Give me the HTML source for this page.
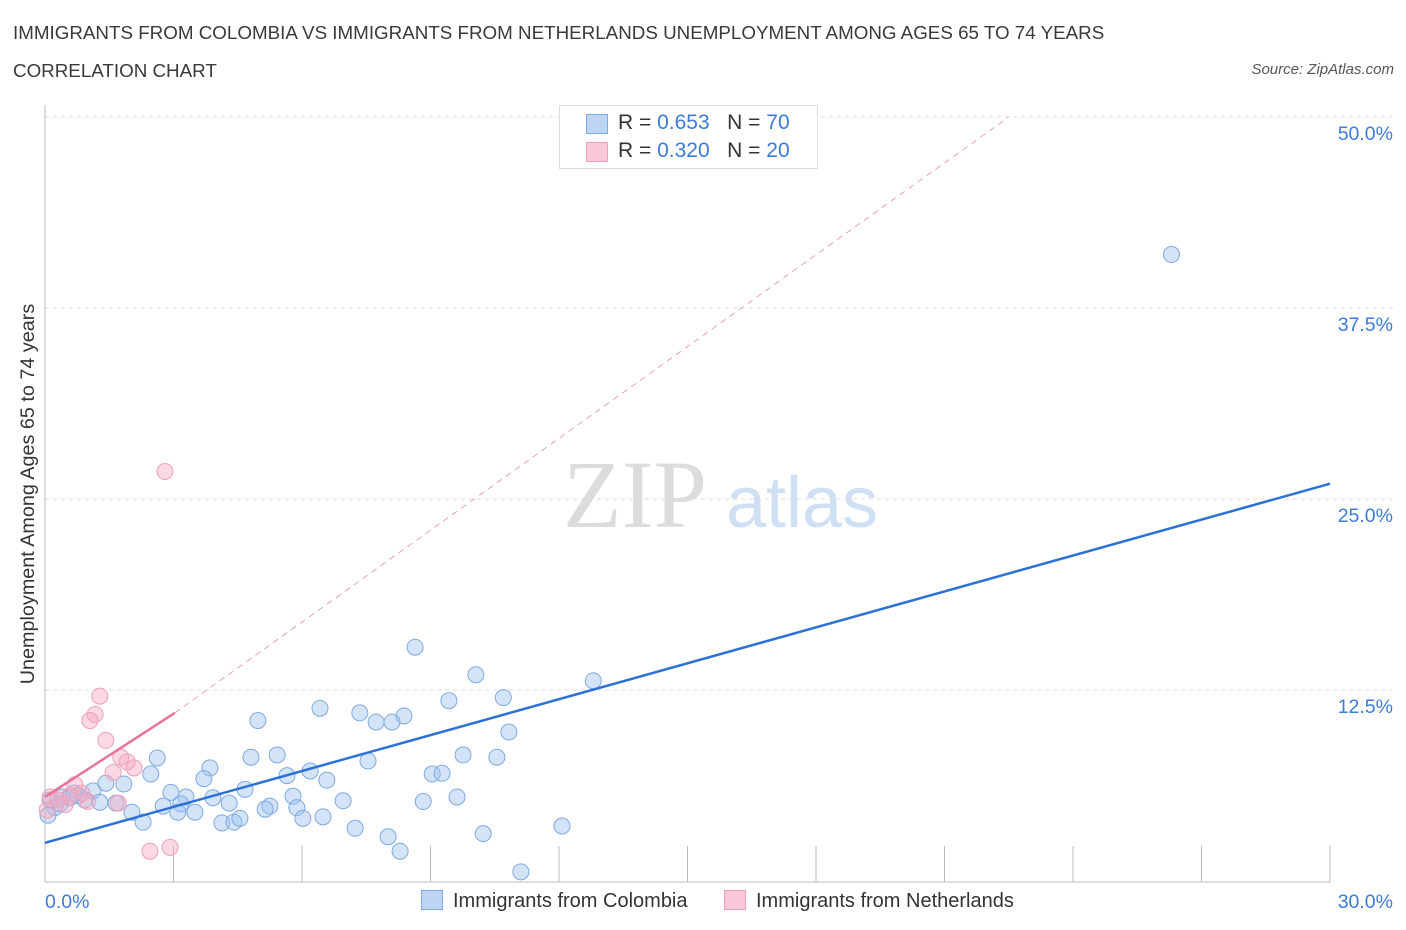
<!DOCTYPE html>
<html><head><meta charset="utf-8"><style>
body{margin:0;background:#fff;font-family:"Liberation Sans",sans-serif;}
#wrap{position:relative;width:1406px;height:930px;overflow:hidden;}
.t{position:absolute;white-space:nowrap;}
</style></head><body>
<div id="wrap">
<div class="t" style="left:13px;top:22px;font-size:18.8px;color:#3a3a3a;">IMMIGRANTS FROM COLOMBIA VS IMMIGRANTS FROM NETHERLANDS UNEMPLOYMENT AMONG AGES 65 TO 74 YEARS</div>
<div class="t" style="left:13px;top:60px;font-size:18.8px;color:#3a3a3a;">CORRELATION CHART</div>
<div class="t" style="right:12px;top:61px;font-size:15px;color:#555;font-style:italic;">Source: ZipAtlas.com</div>
<svg id="svg" width="1406" height="930" style="position:absolute;left:0;top:0"></svg>
</div>
<script>
const yTicks=[12.5,25,37.5,50];
const yTickLabels=["12.5%","25.0%","37.5%","50.0%"];
const xTickVals=[0,3,6,9,12,15,18,21,24,27,30];
const colX=[26.3,8.64,10.06,12.8,10.7,9.43,6.42,7.35,8.38,7.73,8.10,4.97,10.83,2.62,4.81,5.42,7.54,9.76,10.55,3.85,2.47,1.42,1.84,3.71,5.65,6.19,6.58,9.04,9.27,4.67,2.94,1.12,3.29,3.92,5.79,6.96,8.83,9.62,1.66,1.28,2.76,3.17,4.30,5.25,5.14,5.88,2.03,3.10,3.50,2.29,4.13,4.41,4.55,6.02,6.49,7.24,8.01,8.29,10.23,12.07,11.11,0.12,0.23,0.40,0.58,0.77,0.93,0.07,0.35,0.68];
const colY=[41.0,15.3,13.5,13.1,12.0,11.8,11.3,11.0,10.8,10.4,10.4,10.5,9.75,8.05,8.1,8.25,7.85,8.25,8.1,7.4,7.0,6.4,6.35,6.7,6.9,7.2,6.6,7.0,7.05,6.0,5.8,5.9,5.5,5.45,5.55,5.25,5.2,5.5,5.1,5.15,4.9,5.05,5.1,4.9,4.7,4.8,4.5,4.5,4.5,3.85,3.8,3.85,4.1,4.1,4.2,3.45,2.9,1.95,3.1,3.6,0.6,5.3,4.8,5.5,5.45,5.6,5.3,4.3,5.05,5.75];
const nedX=[2.80,1.28,1.17,1.05,1.42,1.77,1.92,2.08,1.59,0.70,2.45,2.92,1.71,0.47,0.12,0.30,0.86,1.00,0.05,0.58];
const nedY=[26.8,12.1,10.9,10.5,9.2,8.1,7.8,7.4,7.1,6.3,1.95,2.2,5.1,5.0,5.5,5.3,5.75,5.2,4.65,5.6];
const colLine=[2.5,26.0]; // y at x=0, x=30
const nedLine=[5.5,11.0,3.03]; // y at 0, y at end, end x
const nedDashEndX=22.5; // x where dashed extension reaches 50%
const X0=45,X1=1330,Y0=881,Y1=117;
const sx=v=>X0+(X1-X0)*v/30, sy=v=>Y0-(Y0-Y1)*v/50;
const svg=document.getElementById('svg');const NS='http://www.w3.org/2000/svg';
function mk(t,a,p){const e=document.createElementNS(NS,t);for(const k in a)e.setAttribute(k,a[k]);(p||svg).appendChild(e);return e;}
let w=mk('text',{x:635,y:527,'font-size':96,'font-family':'Liberation Serif',fill:'#dcdcdc','text-anchor':'middle'});w.textContent='ZIP';


let w2=mk('text',{x:802,y:527,'font-size':72,'font-family':'Liberation Sans',fill:'#cfe0f5','text-anchor':'middle'});w2.textContent='atlas';


yTicks.forEach((v,i)=>{
 const g=mk('line',{x1:X0,x2:1395,y1:sy(v),y2:sy(v),stroke:'#dddddd','stroke-dasharray':'4,4'});
 
 
 const t=mk('text',{x:1393,y:sy(v)+23,'font-size':19.5,fill:'#3d7bd9','text-anchor':'end'});t.textContent=yTickLabels[i];
 
 
});
let ax=mk('line',{x1:X0,x2:X0,y1:105,y2:882,stroke:'#bbb'});


let bx=mk('line',{x1:X0,x2:X1,y1:882,y2:882,stroke:'#bbb'});


xTickVals.forEach(v=>{const l=mk('line',{x1:sx(v),x2:sx(v),y1:846,y2:882,stroke:'#bbb'});
 
 });
let xl=mk('text',{x:45,y:908,'font-size':19.5,fill:'#3d7bd9'});xl.textContent='0.0%';


let xr=mk('text',{x:1393,y:908,'font-size':19.5,fill:'#3d7bd9','text-anchor':'end'});xr.textContent='30.0%';


let yt=mk('text',{x:0,y:0,'font-size':19.8,fill:'#333','text-anchor':'middle',transform:'translate(34,494) rotate(-90)'});yt.textContent='Unemployment Among Ages 65 to 74 years';


let pd=mk('line',{x1:sx(nedLine[2]),y1:sy(nedLine[1]),x2:sx(nedDashEndX),y2:sy(50),stroke:'#e8a0b8','stroke-dasharray':'6,5'});


colX.forEach((v,i)=>{const c=mk('circle',{cx:sx(v),cy:sy(colY[i]),r:8,fill:'rgba(160,196,240,0.45)',stroke:'#7fa9e0','stroke-width':1});
 
 });
nedX.forEach((v,i)=>{const c=mk('circle',{cx:sx(v),cy:sy(nedY[i]),r:8,fill:'rgba(245,170,195,0.45)',stroke:'#f0a0b8','stroke-width':1});
 
 });
let bl=mk('line',{x1:sx(0),y1:sy(colLine[0]),x2:sx(30),y2:sy(colLine[1]),stroke:'#2c72d6','stroke-width':2.5});


let pl=mk('line',{x1:sx(0),y1:sy(nedLine[0]),x2:sx(nedLine[2]),y2:sy(nedLine[1]),stroke:'#e8739b','stroke-width':2.5});


</script>
<div class="t" style="left:559px;top:105px;width:257px;height:62px;border:1px solid #ddd;background:#fff;font-size:21px;color:#333;">
 <div style="position:absolute;left:26px;top:8px;width:20px;height:18px;background:#bcd5f5;border:1px solid #7fa9e0"></div>
 <div style="position:absolute;left:58px;top:5px">R = <span style="color:#3d7bd9">0.653</span>&nbsp;&nbsp;&nbsp;N = <span style="color:#3d7bd9">70</span></div>
 <div style="position:absolute;left:26px;top:36px;width:20px;height:18px;background:#f8c8d6;border:1px solid #f0a0b8"></div>
 <div style="position:absolute;left:58px;top:33px">R = <span style="color:#3d7bd9">0.320</span>&nbsp;&nbsp;&nbsp;N = <span style="color:#3d7bd9">20</span></div>
</div>
<div class="t" style="left:421px;top:890px;font-size:20px;color:#333;">
 <span style="display:inline-block;width:20px;height:18px;background:#bcd5f5;border:1px solid #7fa9e0;vertical-align:-3px;margin-right:10px"></span>Immigrants from Colombia</div>
<div class="t" style="left:724px;top:890px;font-size:20px;color:#333;">
 <span style="display:inline-block;width:20px;height:18px;background:#f8c8d6;border:1px solid #f0a0b8;vertical-align:-3px;margin-right:10px"></span>Immigrants from Netherlands</div>
</body></html>
